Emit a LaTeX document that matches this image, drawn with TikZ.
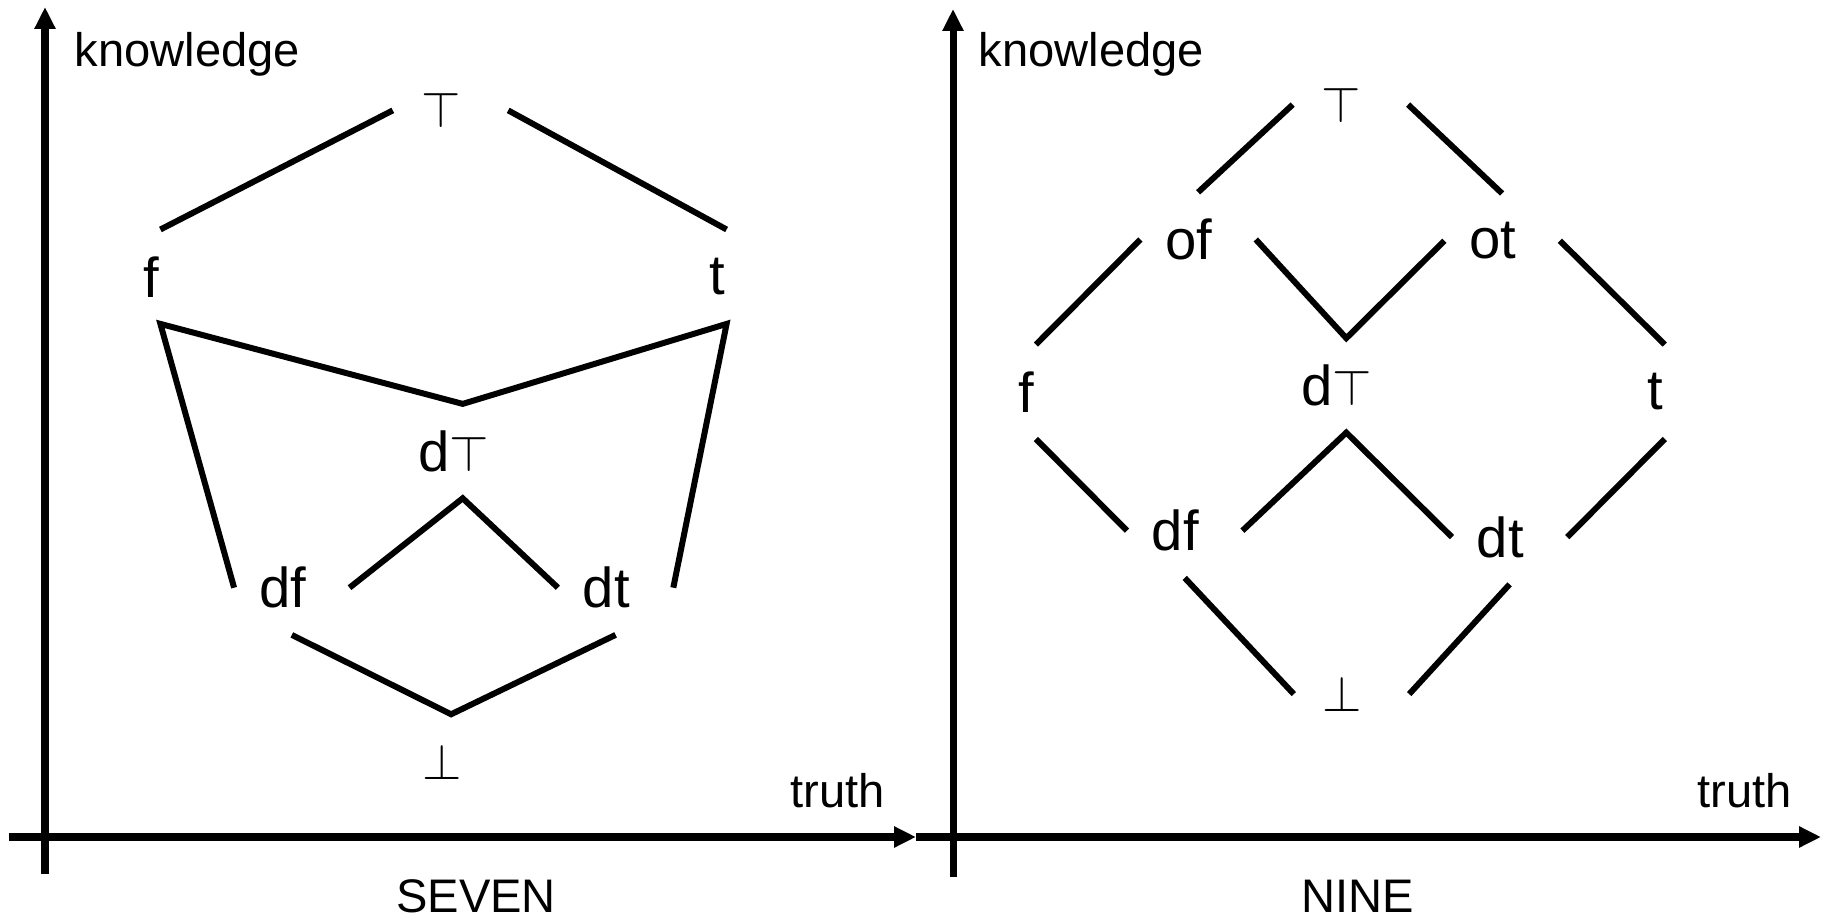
\documentclass[tikz,border=0pt]{standalone}
\usepackage{fontspec}
\setmainfont{Liberation Sans}
\usepackage{tikz}
\usetikzlibrary{arrows.meta}

\newcommand{\topsym}{{\fontsize{15}{15}\selectfont$\top$}}
\newcommand{\botsym}{{\fontsize{15}{15}\selectfont$\bot$}}

\begin{document}
\begin{tikzpicture}[
    x=0.1mm, y=-0.1mm,
    font=\fontsize{13.4}{16}\selectfont,
    val/.style={rectangle, inner sep=0pt, minimum width=11.4mm, minimum height=9.3mm, font=\fontsize{16}{18}\selectfont, execute at end node={\kern1.86mm}},
    lbl/.style={inner sep=0pt},
    link/.style={line width=1.7pt},
    axisarrow/.style={-{Triangle[length=2.2mm, width=2mm]}, line width=2pt},
]
\useasboundingbox (0,0) rectangle (1823,918);

\draw[axisarrow] (45,874) -- (45,7);
\draw[axisarrow] (9,837) -- (916,837);
\draw[axisarrow] (953,877) -- (953,9);
\draw[axisarrow] (916,837) -- (1821,837);

\node[lbl, anchor=base west] (s-know) at (74,67) {knowledge};
\node[lbl, anchor=base west] (s-truth) at (790,807) {truth};
\node[lbl, anchor=base] (s-name) at (476,912) {SEVEN};
\node[lbl, anchor=base west] (n-know) at (978,67) {knowledge};
\node[lbl, anchor=base west] (n-truth) at (1697,807) {truth};
\node[lbl, anchor=base] (n-name) at (1358,912) {NINE};

\node[val] (s-top) at (450.5,110.4) {\topsym};
\node[val] (s-f) at (160.4,276.7) {f};
\node[val] (s-t) at (726.6,276.7) {t};
\node[val] (s-dtop) at (462.7,451.1) {d\topsym};
\node[val] (s-df) at (291.8,587.7) {df};
\node[val] (s-dt) at (615.6,587.7) {dt};
\node[val] (s-bot) at (451.1,761.5) {\botsym};

\draw[link] (s-f.north) -- (s-top.west);
\draw[link] (s-t.north) -- (s-top.east);
\draw[link] (s-df.west) -- (s-f.south) -- (s-dtop.north) -- (s-t.south) -- (s-dt.east);
\draw[link] (s-df.east) -- (s-dtop.south) -- (s-dt.west);
\draw[link] (s-df.south) -- (s-bot.north) -- (s-dt.south);

\node[val] (n-top) at (1350.4,104.6) {\topsym};
\node[val] (n-of) at (1198.1,239.5) {of};
\node[val] (n-ot) at (1502.1,240.7) {ot};
\node[val] (n-f) at (1035.9,391.8) {f};
\node[val] (n-dtop) at (1346.3,385.4) {d\topsym};
\node[val] (n-t) at (1664.8,391.8) {t};
\node[val] (n-df) at (1184.7,530.7) {df};
\node[val] (n-dt) at (1509.6,537.1) {dt};
\node[val] (n-bot) at (1351.5,694.1) {\botsym};

\draw[link] (n-f.north) -- (n-of.west);
\draw[link] (n-of.north) -- (n-top.west);
\draw[link] (n-top.east) -- (n-ot.north);
\draw[link] (n-ot.east) -- (n-t.north);
\draw[link] (n-of.east) -- (n-dtop.north) -- (n-ot.west);
\draw[link] (n-f.south) -- (n-df.west);
\draw[link] (n-df.east) -- (n-dtop.south) -- (n-dt.west);
\draw[link] (n-t.south) -- (n-dt.east);
\draw[link] (n-df.south) -- (n-bot.west);
\draw[link] (n-dt.south) -- (n-bot.east);

\end{tikzpicture}
\end{document}
